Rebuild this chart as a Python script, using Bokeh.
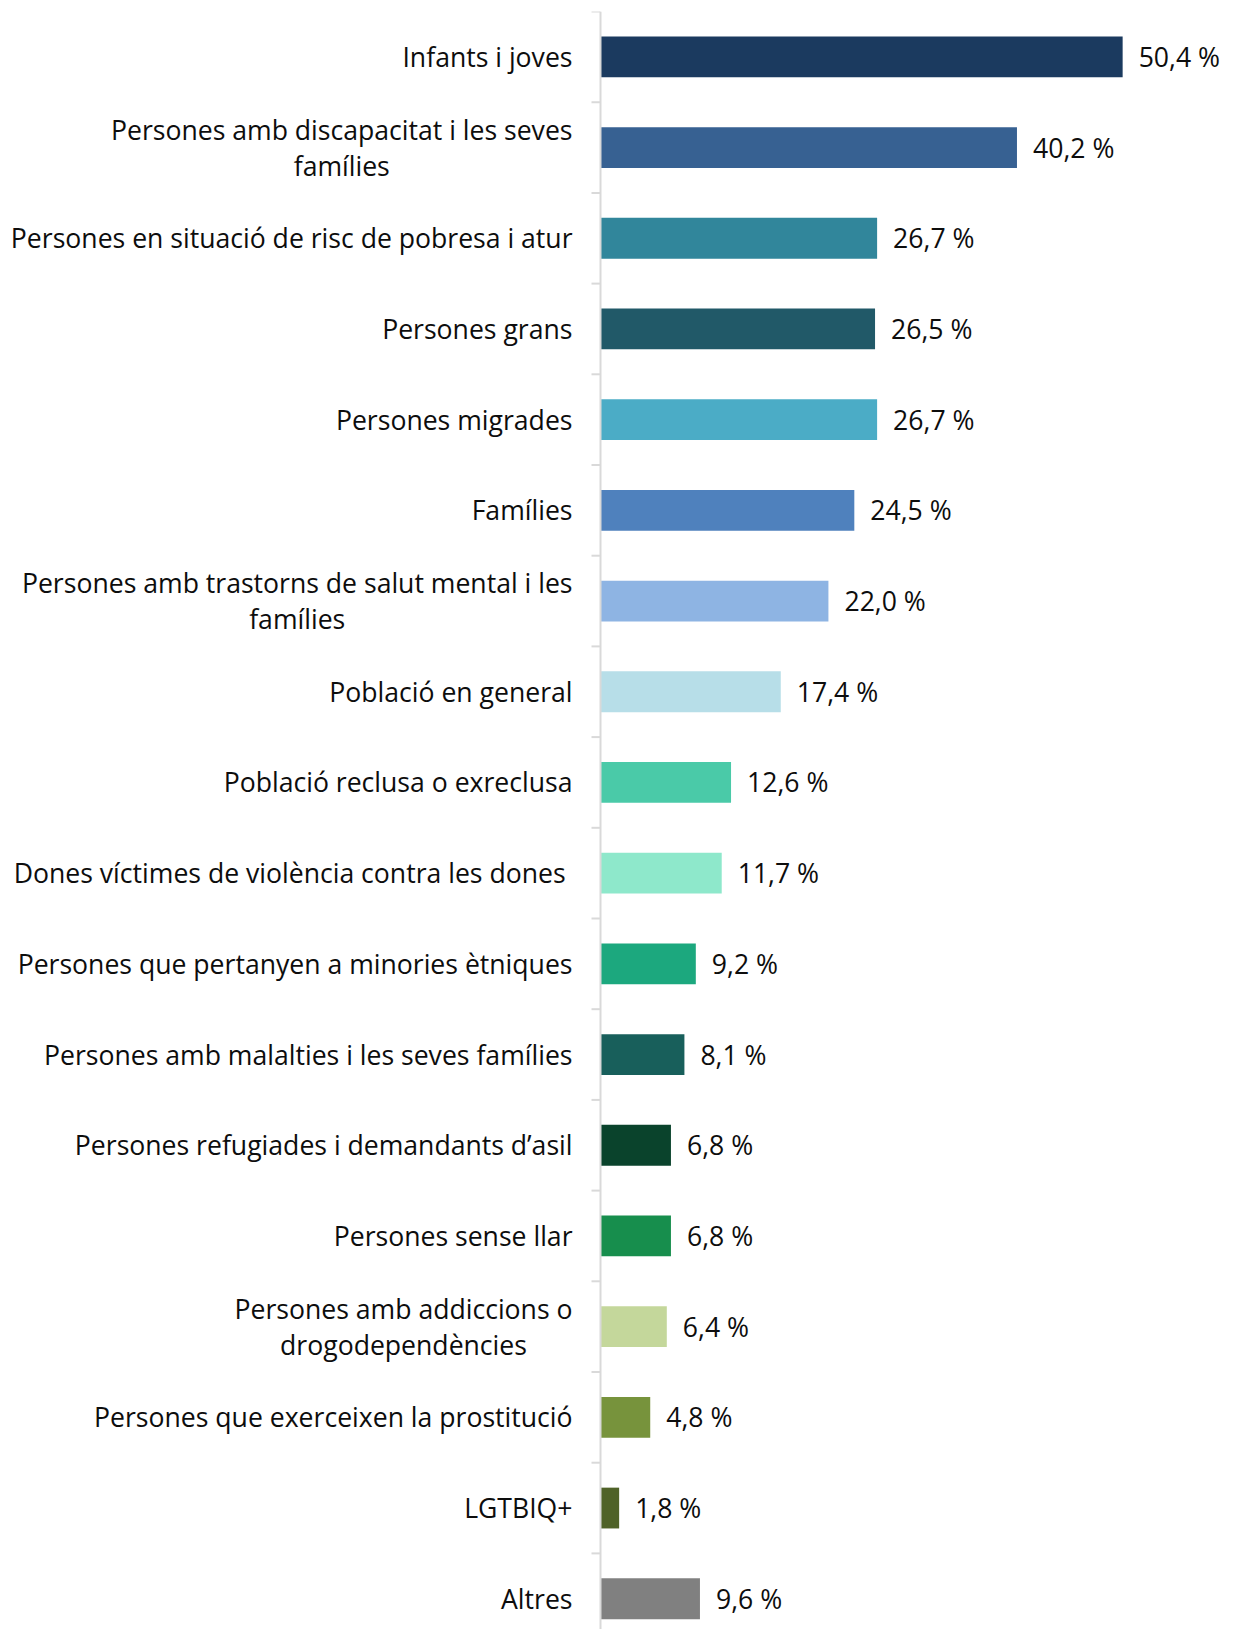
from bokeh.plotting import figure
from bokeh.models import Range1d, ColumnDataSource, Span
from bokeh.core.properties import value
from bokeh.embed import file_html
from bokeh.resources import INLINE

categories = [
    "Infants i joves",
    "Persones amb discapacitat i les seves\nfamílies",
    "Persones en situació de risc de pobresa i atur",
    "Persones grans",
    "Persones migrades",
    "Famílies",
    "Persones amb trastorns de salut mental i les\nfamílies",
    "Població en general",
    "Població reclusa o exreclusa",
    "Dones víctimes de violència contra les dones ",
    "Persones que pertanyen a minories ètniques",
    "Persones amb malalties i les seves famílies",
    "Persones refugiades i demandants d\u2019asil",
    "Persones sense llar",
    "Persones amb addiccions o\ndrogodependències",
    "Persones que exerceixen la prostitució",
    "LGTBIQ+",
    "Altres",
]
values = [50.4, 40.2, 26.7, 26.5, 26.7, 24.5, 22.0, 17.4, 12.6, 11.7,
          9.2, 8.1, 6.8, 6.8, 6.4, 4.8, 1.8, 9.6]
colors = ["#1b3a5f", "#376192", "#31869b", "#215968", "#4bacc6", "#4f81bd",
          "#8eb4e3", "#b7dee8", "#4acaa8", "#8ee8cb", "#1ca87e", "#185f5b",
          "#0a432c", "#178e4d", "#c4d79b", "#77933c", "#4f6228", "#808080"]

n = len(categories)
labels = [("%.1f" % v).replace(".", ",") + " %" for v in values]
ypos = [i + 0.5 for i in range(n)]

W, H = 1225, 1629
axis_px = 600          # screen position of x=0 inside figure
px_per_unit = 10.36
top_border = 11
cat_px = 90.7
y_end = (H - top_border) / cat_px

src = ColumnDataSource(dict(y=ypos, v=values, c=colors, cat=categories, lab=labels))

p = figure(width=W, height=H, output_backend="svg", toolbar_location=None,
           x_range=Range1d(-axis_px / px_per_unit, (W - axis_px) / px_per_unit),
           y_range=Range1d(y_end, 0),
           min_border_left=0, min_border_right=0, min_border_top=top_border,
           min_border_bottom=0)
p.xaxis.visible = False
p.yaxis.visible = False
p.grid.visible = False
p.outline_line_color = None
p.background_fill_color = "white"
p.border_fill_color = "white"

p.hbar(y="y", left=0, right="v", height=0.45, fill_color="c", line_color=None, source=src)

# axis line and ticks
p.add_layout(Span(location=0, dimension="height", line_color="#d9d9d9", line_width=2))
tick_len = 9 / px_per_unit
ticks = list(range(n + 1))
p.segment(x0=[-tick_len] * len(ticks), x1=[0] * len(ticks), y0=ticks, y1=ticks,
          line_color="#d9d9d9", line_width=2)

FS = "26.6px"
# category labels
p.text(x=0, y="y", text="cat", source=src, x_offset=-28,
       anchor="center_right", text_align="center", text_baseline="middle",
       text_font=value("Open Sans"), text_font_size=FS, text_color="#0d0d0d",
       text_line_height=1.0)

# value labels
p.text(x="v", y="y", text="lab", source=src, x_offset=16,
       text_align="left", text_baseline="middle",
       text_font=value("Open Sans"), text_font_size=FS, text_color="#0d0d0d")

open("out.html", "w").write(file_html(p, INLINE))
